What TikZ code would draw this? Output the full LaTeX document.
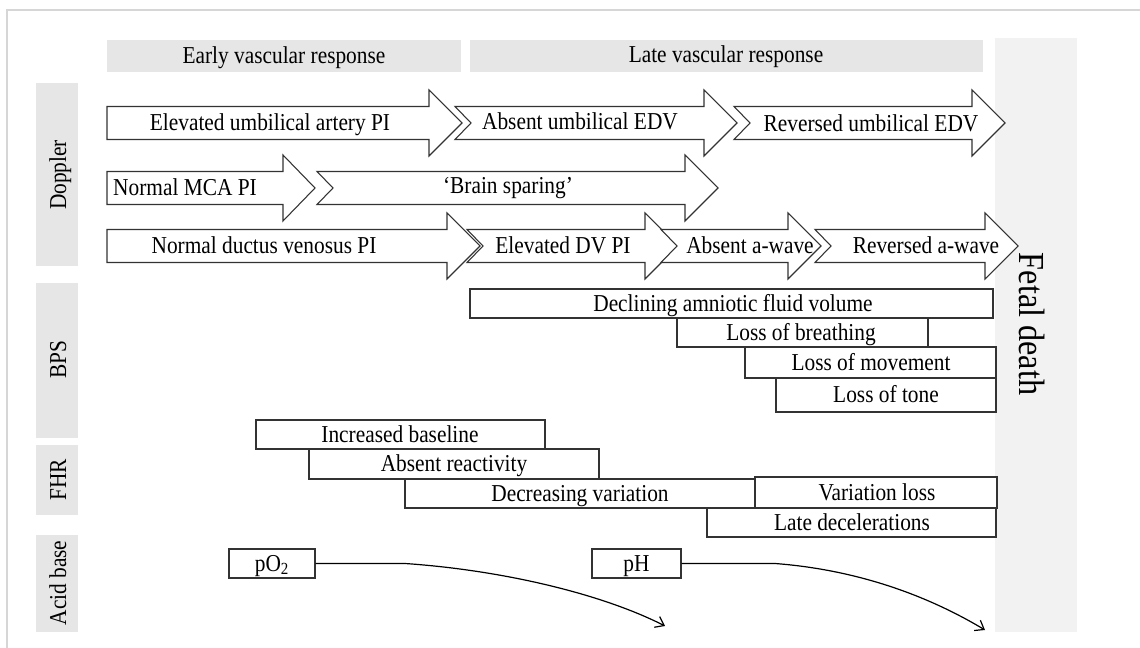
\documentclass[tikz,border=0pt]{standalone}
\usepackage{fontspec}
\setmainfont{Liberation Serif}[FakeStretch=0.88]
\usetikzlibrary{arrows.meta}
\definecolor{hdrgray}{HTML}{E6E6E6}
\definecolor{bargray}{HTML}{F2F2F2}
\definecolor{framegray}{HTML}{D6D6D6}
\definecolor{linegray}{HTML}{333333}
\newcommand{\flatarrowpath}[4]{(#1,#4-16.5) -- (#2,#4-16.5) -- (#2,#4-33) -- (#3,#4) -- (#2,#4+33) -- (#2,#4+16.5) -- (#1,#4+16.5) -- cycle}
\newcommand{\notcharrowpath}[4]{(#1,#4-16.5) -- (#2,#4-16.5) -- (#2,#4-33) -- (#3,#4) -- (#2,#4+33) -- (#2,#4+16.5) -- (#1,#4+16.5) -- (#1+16,#4) -- cycle}
\tikzset{
  txt/.style={font=\fontsize{18.2}{22}\selectfont, inner sep=0pt, text height=12pt, text depth=0pt},
  bigtxt/.style={font=\fontsize{27.5}{32}\selectfont, inner sep=0pt, text height=18.2pt, text depth=0pt},
  hdr/.style={fill=hdrgray, draw=none},
  arrowline/.style={draw=linegray, line width=0.8pt, fill=white, line join=miter},
  tbox/.style={draw=linegray, line width=0.8pt, fill=white},
  curve/.style={draw=black, line width=0.9pt, -{Straight Barb[length=6pt,width=9pt]}}
}
\begin{document}
\begin{tikzpicture}[x=0.75pt,y=-0.75pt]
\useasboundingbox (0,0) rectangle (1140,648);
\fill[white] (0,0) rectangle (1140,648);
% outer frame
\draw[framegray, line width=1.5pt] (7,660) -- (7,10.5) -- (1150,10.5);
% headers
\fill[hdr] (107,40) rectangle (461,72);
\node[txt] (early) at (284,56) {Early vascular response};
\fill[hdr] (470,40) rectangle (983,72);
\node[txt] (late) at (726,55) {Late vascular response};
% fetal death bar
\fill[bargray] (995,38) rectangle (1077,632);
\node[bigtxt, rotate=-90] (fetal) at (1032,324) {Fetal death};
% left labels
\fill[hdr] (36,83) rectangle (78,266);
\node[txt, rotate=90] (doppler) at (58,175) {Doppler};
\fill[hdr] (36,283) rectangle (78,438);
\node[txt, rotate=90] (bps) at (58,360) {BPS};
\fill[hdr] (36,445) rectangle (78,515);
\node[txt, rotate=90] (fhr) at (58,480) {FHR};
\fill[hdr] (36,535) rectangle (78,632);
\node[txt, rotate=90] (acid) at (58,583) {Acid base};
% Doppler arrows row 1
\path[arrowline] \flatarrowpath{107}{429}{462}{123};
\path[arrowline] \notcharrowpath{455}{704}{737}{123};
\path[arrowline] \notcharrowpath{734}{972}{1005}{123};
\node[txt] (uapi) at (270,123) {Elevated umbilical artery PI};
\node[txt] (aedv) at (580,122) {Absent umbilical EDV};
\node[txt] (redv) at (871,124) {Reversed umbilical EDV};
% row 2
\path[arrowline] \flatarrowpath{107}{283}{315}{188};
\path[arrowline] \notcharrowpath{317}{685}{718}{188};
\node[txt] (mca) at (185,188) {Normal MCA PI};
\node[txt] (brain) at (508,186) {‘Brain sparing’};
% row 3
\path[arrowline] \flatarrowpath{107}{447}{480}{246};
\path[arrowline] \notcharrowpath{467}{645}{678}{246};
\path[arrowline] \notcharrowpath{661}{788}{821}{246};
\path[arrowline] \notcharrowpath{815}{985}{1018}{246};
\node[txt] (dv) at (264,246) {Normal ductus venosus PI};
\node[txt] (edv) at (563,246) {Elevated DV PI};
\node[txt] (aaw) at (750,246) {Absent a-wave};
\node[txt] (raw) at (926,246) {Reversed a-wave};
% BPS boxes
\draw[tbox] (470,289) rectangle (993,318);
\node[txt] (afv) at (733,303.5) {Declining amniotic fluid volume};
\draw[tbox] (677,318) rectangle (928,347);
\node[txt] (breath) at (801,332.5) {Loss of breathing};
\draw[tbox] (745,347) rectangle (996,378);
\node[txt] (move) at (871,362.5) {Loss of movement};
\draw[tbox] (776,378) rectangle (996,412);
\node[txt] (tone) at (886,395) {Loss of tone};
% FHR boxes
\draw[tbox] (256,420) rectangle (545,449);
\node[txt] (base) at (400,434.5) {Increased baseline};
\draw[tbox] (309,449) rectangle (599,479);
\node[txt] (react) at (454,464) {Absent reactivity};
\draw[tbox] (405,479) rectangle (755,508);
\node[txt] (decvar) at (580,493.5) {Decreasing variation};
\draw[tbox] (755,477) rectangle (997,508);
\node[txt] (varloss) at (877,492.5) {Variation loss};
\draw[tbox] (707,508) rectangle (996,537);
\node[txt] (latedec) at (852,522.5) {Late decelerations};
% Acid base
\node[tbox, txt, minimum width=86*0.75pt, minimum height=29*0.75pt] (po2) at (272,563.5) {pO\textsubscript{2}};
\node[tbox, txt, minimum width=89*0.75pt, minimum height=29*0.75pt] (ph) at (636.5,563.5) {pH};
\coordinate (po2end) at (665,626);
\coordinate (phend) at (985,630);
\draw[curve] (po2.east) -- (405,563.5) .. controls (500,570) and (600,593) .. (po2end);
\draw[curve] (ph.east) -- (775,563.5) .. controls (860,570) and (930,597) .. (phend);
\end{tikzpicture}
\end{document}
